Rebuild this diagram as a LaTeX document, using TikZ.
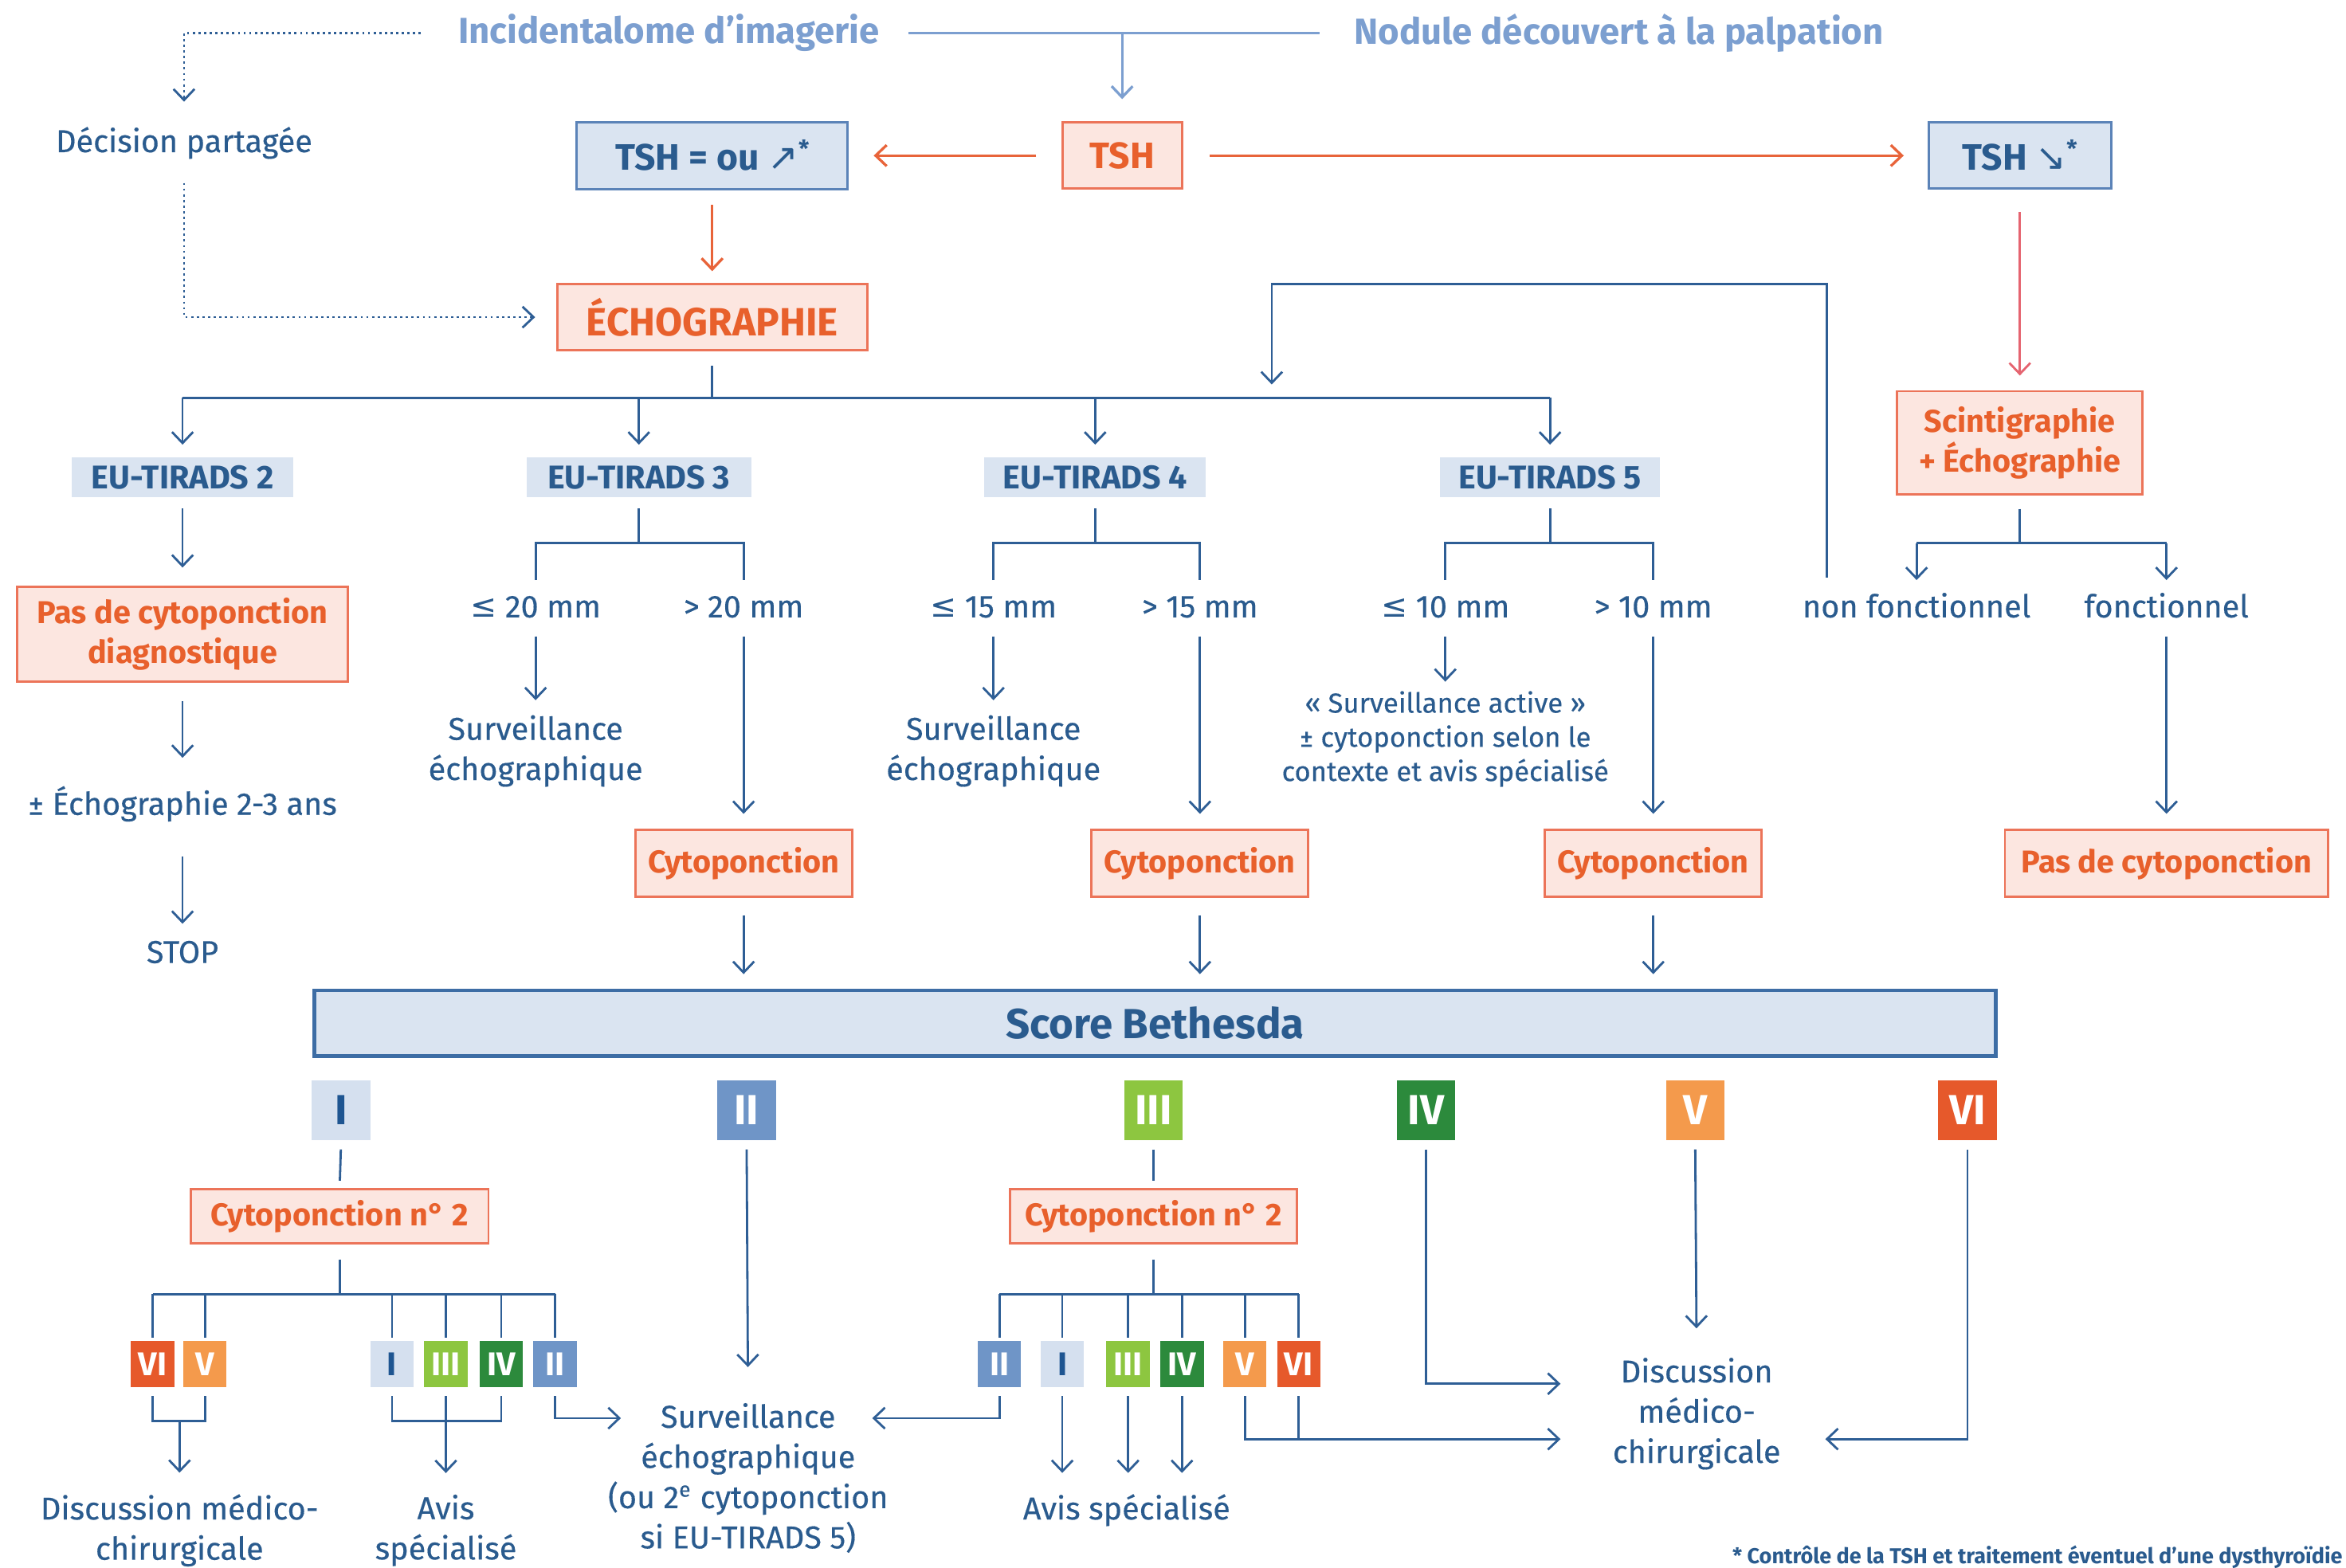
\documentclass[tikz,border=0pt]{standalone}
\usepackage{fontspec}
\setmainfont{Fira Sans}
\newfontfamily\medf{Fira Sans}[UprightFeatures={FakeBold=0.35}]
\newfontfamily\symf{DejaVu Sans}
\usetikzlibrary{arrows.meta}
\definecolor{lineblue}{HTML}{2E5E95}
\definecolor{darkblue}{HTML}{2A5B8E}
\definecolor{topblue}{HTML}{7C9FD0}
\definecolor{lightfill}{HTML}{DAE4F1}
\definecolor{boxborder}{HTML}{5B83B8}
\definecolor{bethborder}{HTML}{3D6DA5}
\definecolor{ortext}{HTML}{E8602C}
\definecolor{orborder}{HTML}{EC7459}
\definecolor{pinkfill}{HTML}{FCE6E0}
\definecolor{orline}{HTML}{E8643A}
\definecolor{pinkline}{HTML}{E56470}
\definecolor{catI}{HTML}{D5E0EF}
\definecolor{catItext}{HTML}{1E5591}
\definecolor{catII}{HTML}{6F95C7}
\definecolor{catIII}{HTML}{8DC640}
\definecolor{catIV}{HTML}{2C8A3C}
\definecolor{catV}{HTML}{F49A4C}
\definecolor{catVI}{HTML}{E6592B}
\begin{document}
\begin{tikzpicture}[x=0.02cm,y=-0.02cm,
  every node/.style={inner sep=0pt},
  tip/.style={-{Straight Barb[length=4.2pt,width=8pt]}},
  ln/.style={draw=lineblue,line width=0.85pt},
  arr/.style={ln,tip},
  topln/.style={draw=topblue,line width=1pt},
  toparr/.style={topln,tip},
  oarr/.style={draw=orline,line width=1pt,tip},
  parr/.style={draw=pinkline,line width=0.85pt,tip},
  dotarr/.style={draw=lineblue,line width=0.85pt,dash pattern=on 0.85pt off 1.3pt,tip},
  topt/.style={text=topblue,font=\bfseries\fontsize{13.8}{16}\selectfont},
  lbl/.style={text=darkblue,font=\medf\fontsize{12}{15.3}\selectfont,text height=9pt,text depth=2.5pt},
  ml/.style={text=darkblue,font=\medf\fontsize{12}{15.3}\selectfont,align=center},
  obox/.style={draw=orborder,fill=pinkfill,text=ortext,line width=0.9pt,align=center,
    font=\bfseries\fontsize{12}{15.3}\selectfont},
  bbox/.style={draw=boxborder,fill=lightfill,text=darkblue,line width=0.9pt,
    font=\bfseries\fontsize{14}{16}\selectfont},
  tir/.style={fill=lightfill,text=darkblue,minimum height=0.54cm,
    font=\bfseries\fontsize{12.5}{14}\selectfont},
  cyto/.style={obox,minimum width=2.9cm,minimum height=0.9cm},
  cat/.style={minimum width=0.78cm,minimum height=0.8cm,text=white,
    font=\bfseries\fontsize{16}{16}\selectfont},
  scat/.style={minimum width=0.58cm,minimum height=0.62cm,text=white,
    font=\bfseries\fontsize{12.5}{12.5}\selectfont},
  foot/.style={text=darkblue,font=\bfseries\fontsize{8.2}{9}\selectfont}
]
\useasboundingbox (0,0) rectangle (1568,1048);

% ---------- top ----------
\node[topt] (inc) at (447,22) {Incidentalome d’imagerie};
\node[topt] (nod) at (1082,22) {Nodule découvert à la palpation};
\node[lbl] (dec) at (123,96) {Décision partagée};
\node[bbox,minimum width=3.62cm,minimum height=0.9cm] (tsheq) at (476,104)
  {TSH = ou {\symf\mdseries ↗}\raisebox{0.35em}{\fontsize{9}{9}\selectfont*}};
\node[obox,minimum width=1.6cm,minimum height=0.88cm,font=\bfseries\fontsize{14}{16}\selectfont] (tsh) at (750,104) {TSH};
\node[bbox,minimum width=2.44cm,minimum height=0.88cm] (tshd) at (1350,104)
  {TSH {\symf\mdseries ↘}\raisebox{0.35em}{\fontsize{9}{9}\selectfont*}};
\node[obox,minimum width=4.14cm,minimum height=0.88cm,font=\bfseries\fontsize{15}{17}\selectfont] (echo) at (476,212) {ÉCHOGRAPHIE};
\node[obox,minimum width=3.28cm,minimum height=1.38cm] (scinti) at (1350,296) {Scintigraphie\\+ Échographie};

% ---------- TIRADS ----------
\node[tir,minimum width=2.96cm] (eu2) at (122,319) {EU-TIRADS 2};
\node[tir,minimum width=3.0cm] (eu3) at (427,319) {EU-TIRADS 3};
\node[tir,minimum width=2.96cm] (eu4) at (732,319) {EU-TIRADS 4};
\node[tir,minimum width=2.94cm] (eu5) at (1036,319) {EU-TIRADS 5};

\node[obox,minimum width=4.42cm,minimum height=1.26cm] (pasdiag) at (122,424) {Pas de cytoponction\\diagnostique};
\node[lbl] (ech23) at (122,539) {± Échographie 2-3 ans};
\node[lbl] (stop) at (122,638) {STOP};

\node[lbl] (le20) at (358,407) {{\symf ≤} 20 mm};
\node[lbl] (gt20) at (497,407) {> 20 mm};
\node[ml] (surv3) at (358,502) {Surveillance\\échographique};
\node[cyto] (cyto3) at (497,577) {Cytoponction};

\node[lbl] (le15) at (664,407) {{\symf ≤} 15 mm};
\node[lbl] (gt15) at (802,407) {> 15 mm};
\node[ml] (surv4) at (664,502) {Surveillance\\échographique};
\node[cyto] (cyto4) at (802,577) {Cytoponction};

\node[lbl] (le10) at (966,407) {{\symf ≤} 10 mm};
\node[lbl] (gt10) at (1105,407) {> 10 mm};
\node[ml,font=\medf\fontsize{10.5}{13}\selectfont] (active) at (966,494) {« Surveillance active »\\± cytoponction selon le\\contexte et avis spécialisé};
\node[cyto] (cyto5) at (1105,577) {Cytoponction};

\node[lbl] (nonf) at (1281,407) {non fonctionnel};
\node[lbl] (fonc) at (1448,407) {fonctionnel};
\node[obox,minimum width=4.32cm,minimum height=0.9cm] (pascyto) at (1448,577) {Pas de cytoponction};

% ---------- Bethesda ----------
\node[draw=bethborder,fill=lightfill,line width=1.3pt,minimum width=22.48cm,minimum height=0.88cm,
  text=darkblue,font=\bfseries\fontsize{16}{18}\selectfont] (beth) at (772,684) {Score Bethesda};

\node[cat,fill=catI,text=catItext] (cI) at (228,742) {I};
\node[cat,fill=catII] (cII) at (499,742) {II};
\node[cat,fill=catIII] (cIII) at (771,742) {III};
\node[cat,fill=catIV] (cIV) at (953,742) {IV};
\node[cat,fill=catV] (cV) at (1133,742) {V};
\node[cat,fill=catVI] (cVI) at (1315,742) {VI};

\node[obox,minimum width=3.98cm,minimum height=0.72cm] (cyto2a) at (227,813) {Cytoponction n° 2};
\node[obox,minimum width=3.84cm,minimum height=0.72cm] (cyto2b) at (771,813) {Cytoponction n° 2};

\node[scat,fill=catVI] (aVI) at (102,912) {VI};
\node[scat,fill=catV] (aV) at (137,912) {V};
\node[scat,fill=catI,text=catItext] (aI) at (262,912) {I};
\node[scat,fill=catIII] (aIII) at (298,912) {III};
\node[scat,fill=catIV] (aIV) at (335,912) {IV};
\node[scat,fill=catII] (aII) at (371,912) {II};

\node[scat,fill=catII] (bII) at (668,912) {II};
\node[scat,fill=catI,text=catItext] (bI) at (710,912) {I};
\node[scat,fill=catIII] (bIII) at (754,912) {III};
\node[scat,fill=catIV] (bIV) at (790,912) {IV};
\node[scat,fill=catV] (bV) at (832,912) {V};
\node[scat,fill=catVI] (bVI) at (868,912) {VI};

\node[ml] (disc1) at (120,1023) {Discussion médico-\\chirurgicale};
\node[ml] (avis1) at (298,1023) {Avis\\spécialisé};
\node[ml] (surv) at (500,988) {Surveillance\\échographique\\(ou 2\textsuperscript{e} cytoponction\\si EU-TIRADS 5)};
\node[lbl] (avis2) at (753,1010) {Avis spécialisé};
\node[ml] (disc2) at (1134,945) {Discussion\\médico-\\chirurgicale};
\node[foot,anchor=east] (fn) at (1566,1041) {* Contrôle de la TSH et traitement éventuel d’une dysthyroïdie};

% ---------- connectors: top ----------
\draw[dotarr,shorten <=14pt,shorten >=10pt] (inc.west) -| (dec.north);
\draw[dotarr,shorten <=9pt,shorten >=8pt] (dec.south) |- (echo.west);
\draw[topln,shorten <=11pt,shorten >=13pt] (inc.east) -- (nod.west);
\coordinate (j1) at (tsh.north |- inc.east);
\draw[toparr,shorten >=8.5pt] (j1) -- (tsh.north);

\draw[oarr,shorten <=9.5pt,shorten >=9.5pt] (tsh.west) -- (tsheq.east);
\draw[oarr,shorten <=10pt,shorten >=9pt] (tsh.east) -- (tshd.west);
\draw[oarr,shorten <=5.5pt,shorten >=4.5pt] (tsheq.south) -- (echo.north);
\draw[parr,shorten <=8.5pt,shorten >=5.5pt] (tshd.south) -- (scinti.north);

% echo branches
\coordinate (ebr) at (476,266);
\draw[ln,shorten <=5.5pt] (echo.south) -- (ebr);
\draw[ln] (eu2.north |- ebr) -- (eu5.north |- ebr);
\foreach \n in {eu2,eu3,eu4,eu5} \draw[arr,shorten >=4.5pt] (\n.north |- ebr) -- (\n.north);

% feedback loop from non fonctionnel
\coordinate (fb0) at (1221,386);
\coordinate (fb1) at (1221,190);
\coordinate (fb2) at (850,190);
\coordinate (fb3) at (850,257);
\draw[arr] (fb0) -- (fb1) -- (fb2) -- (fb3);

% TIRADS 2
\draw[arr,shorten <=4pt,shorten >=7pt] (eu2.south) -- (pasdiag.north);
\draw[arr,shorten <=7pt,shorten >=12.5pt] (pasdiag.south) -- (ech23.north);
\draw[arr,shorten <=13pt,shorten >=5.7pt] (ech23.south) -- (stop.north);

% TIRADS 3
\coordinate (t3) at (427,363);
\draw[ln,shorten <=4pt] (eu3.south) -- (t3);
\draw[ln,shorten <=5pt,shorten >=5pt] (le20.north) -- (le20.north |- t3) -- (gt20.north |- t3) -- (gt20.north);
\draw[arr,shorten <=4.5pt,shorten >=5.5pt] (le20.south) -- (surv3.north);
\draw[arr,shorten <=4.5pt,shorten >=5.5pt] (gt20.south) -- (cyto3.north);
\draw[arr,shorten <=6.5pt,shorten >=5.5pt] (cyto3.south) -- (cyto3.south |- beth.north);

% TIRADS 4
\coordinate (t4) at (732,363);
\draw[ln,shorten <=4pt] (eu4.south) -- (t4);
\draw[ln,shorten <=5pt,shorten >=5pt] (le15.north) -- (le15.north |- t4) -- (gt15.north |- t4) -- (gt15.north);
\draw[arr,shorten <=4.5pt,shorten >=5.5pt] (le15.south) -- (surv4.north);
\draw[arr,shorten <=4.5pt,shorten >=5.5pt] (gt15.south) -- (cyto4.north);
\draw[arr,shorten <=6.5pt,shorten >=5.5pt] (cyto4.south) -- (cyto4.south |- beth.north);

% TIRADS 5
\coordinate (t5) at (1036,363);
\draw[ln,shorten <=4pt] (eu5.south) -- (t5);
\draw[ln,shorten <=5pt,shorten >=5pt] (le10.north) -- (le10.north |- t5) -- (gt10.north |- t5) -- (gt10.north);
\draw[arr,shorten <=4.5pt,shorten >=3.4pt] (le10.south) -- (active.north);
\draw[arr,shorten <=4.5pt,shorten >=5.5pt] (gt10.south) -- (cyto5.north);
\draw[arr,shorten <=6.5pt,shorten >=5.5pt] (cyto5.south) -- (cyto5.south |- beth.north);

% scintigraphie
\coordinate (sc) at (1350,363);
\draw[ln,shorten <=5pt] (scinti.south) -- (sc);
\draw[ln] (nonf.north |- sc) -- (fonc.north |- sc);
\draw[arr,shorten >=5pt] (nonf.north |- sc) -- (nonf.north);
\draw[arr,shorten >=5pt] (fonc.north |- sc) -- (fonc.north);
\draw[arr,shorten <=4.5pt,shorten >=5.5pt] (fonc.south) -- (pascyto.north);

% ---------- Bethesda connectors ----------
\draw[ln,shorten <=3.4pt,shorten >=2.8pt] (cI.south) -- (cyto2a.north);
\coordinate (ja) at (227,865);
\draw[ln,shorten <=5.7pt] (cyto2a.south) -- (ja);
\draw[ln] (aVI.north |- ja) -- (aII.north |- ja);
\foreach \n in {aVI,aV,aI,aIII,aIV,aII} \draw[ln,shorten >=1pt] (\n.north |- ja) -- (\n.north);

\coordinate (ua) at (120,950);
\draw[ln,shorten <=3pt,shorten >=3pt] (aVI.south) -- (aVI.south |- ua) -- (aV.south |- ua) -- (aV.south);
\draw[arr,shorten >=8pt] (ua) -- (disc1.north);
\draw[ln,shorten <=3pt,shorten >=3pt] (aI.south) -- (aI.south |- ua) -- (aIV.south |- ua) -- (aIV.south);
\draw[arr,shorten <=3pt,shorten >=8pt] (aIII.south) -- (avis1.north);
\coordinate (sva) at (415,948);
\draw[arr,shorten <=3pt] (aII.south) |- (sva);

\draw[arr,shorten <=3.4pt,shorten >=13.5pt] (cII.south) -- (surv.north);

\draw[ln,shorten <=3.4pt,shorten >=2.8pt] (cIII.south) -- (cyto2b.north);
\coordinate (jb) at (771,865);
\draw[ln,shorten <=5.7pt] (cyto2b.south) -- (jb);
\draw[ln] (bII.north |- jb) -- (bVI.north |- jb);
\foreach \n in {bII,bI,bIII,bIV,bV,bVI} \draw[ln,shorten >=1pt] (\n.north |- jb) -- (\n.north);
\coordinate (svb) at (583,948);
\draw[arr,shorten <=3pt] (bII.south) |- (svb);
\foreach \n in {bI,bIII,bIV} \draw[arr,shorten <=3pt,shorten >=8.5pt] (\n.south) -- (\n.south |- avis2.north);
\coordinate (dvb) at (1043,962);
\draw[arr,shorten <=3pt] (bV.south) |- (dvb);
\draw[ln,shorten <=3pt] (bVI.south) -- (bVI.south |- dvb);

\coordinate (d4) at (1043,925);
\draw[arr,shorten <=3.4pt] (cIV.south) |- (d4);
\draw[arr,shorten <=3.4pt,shorten >=11pt] (cV.south) -- (disc2.north);
\coordinate (d6) at (1220,962);
\draw[arr,shorten <=3.4pt] (cVI.south) |- (d6);
\end{tikzpicture}
\end{document}
